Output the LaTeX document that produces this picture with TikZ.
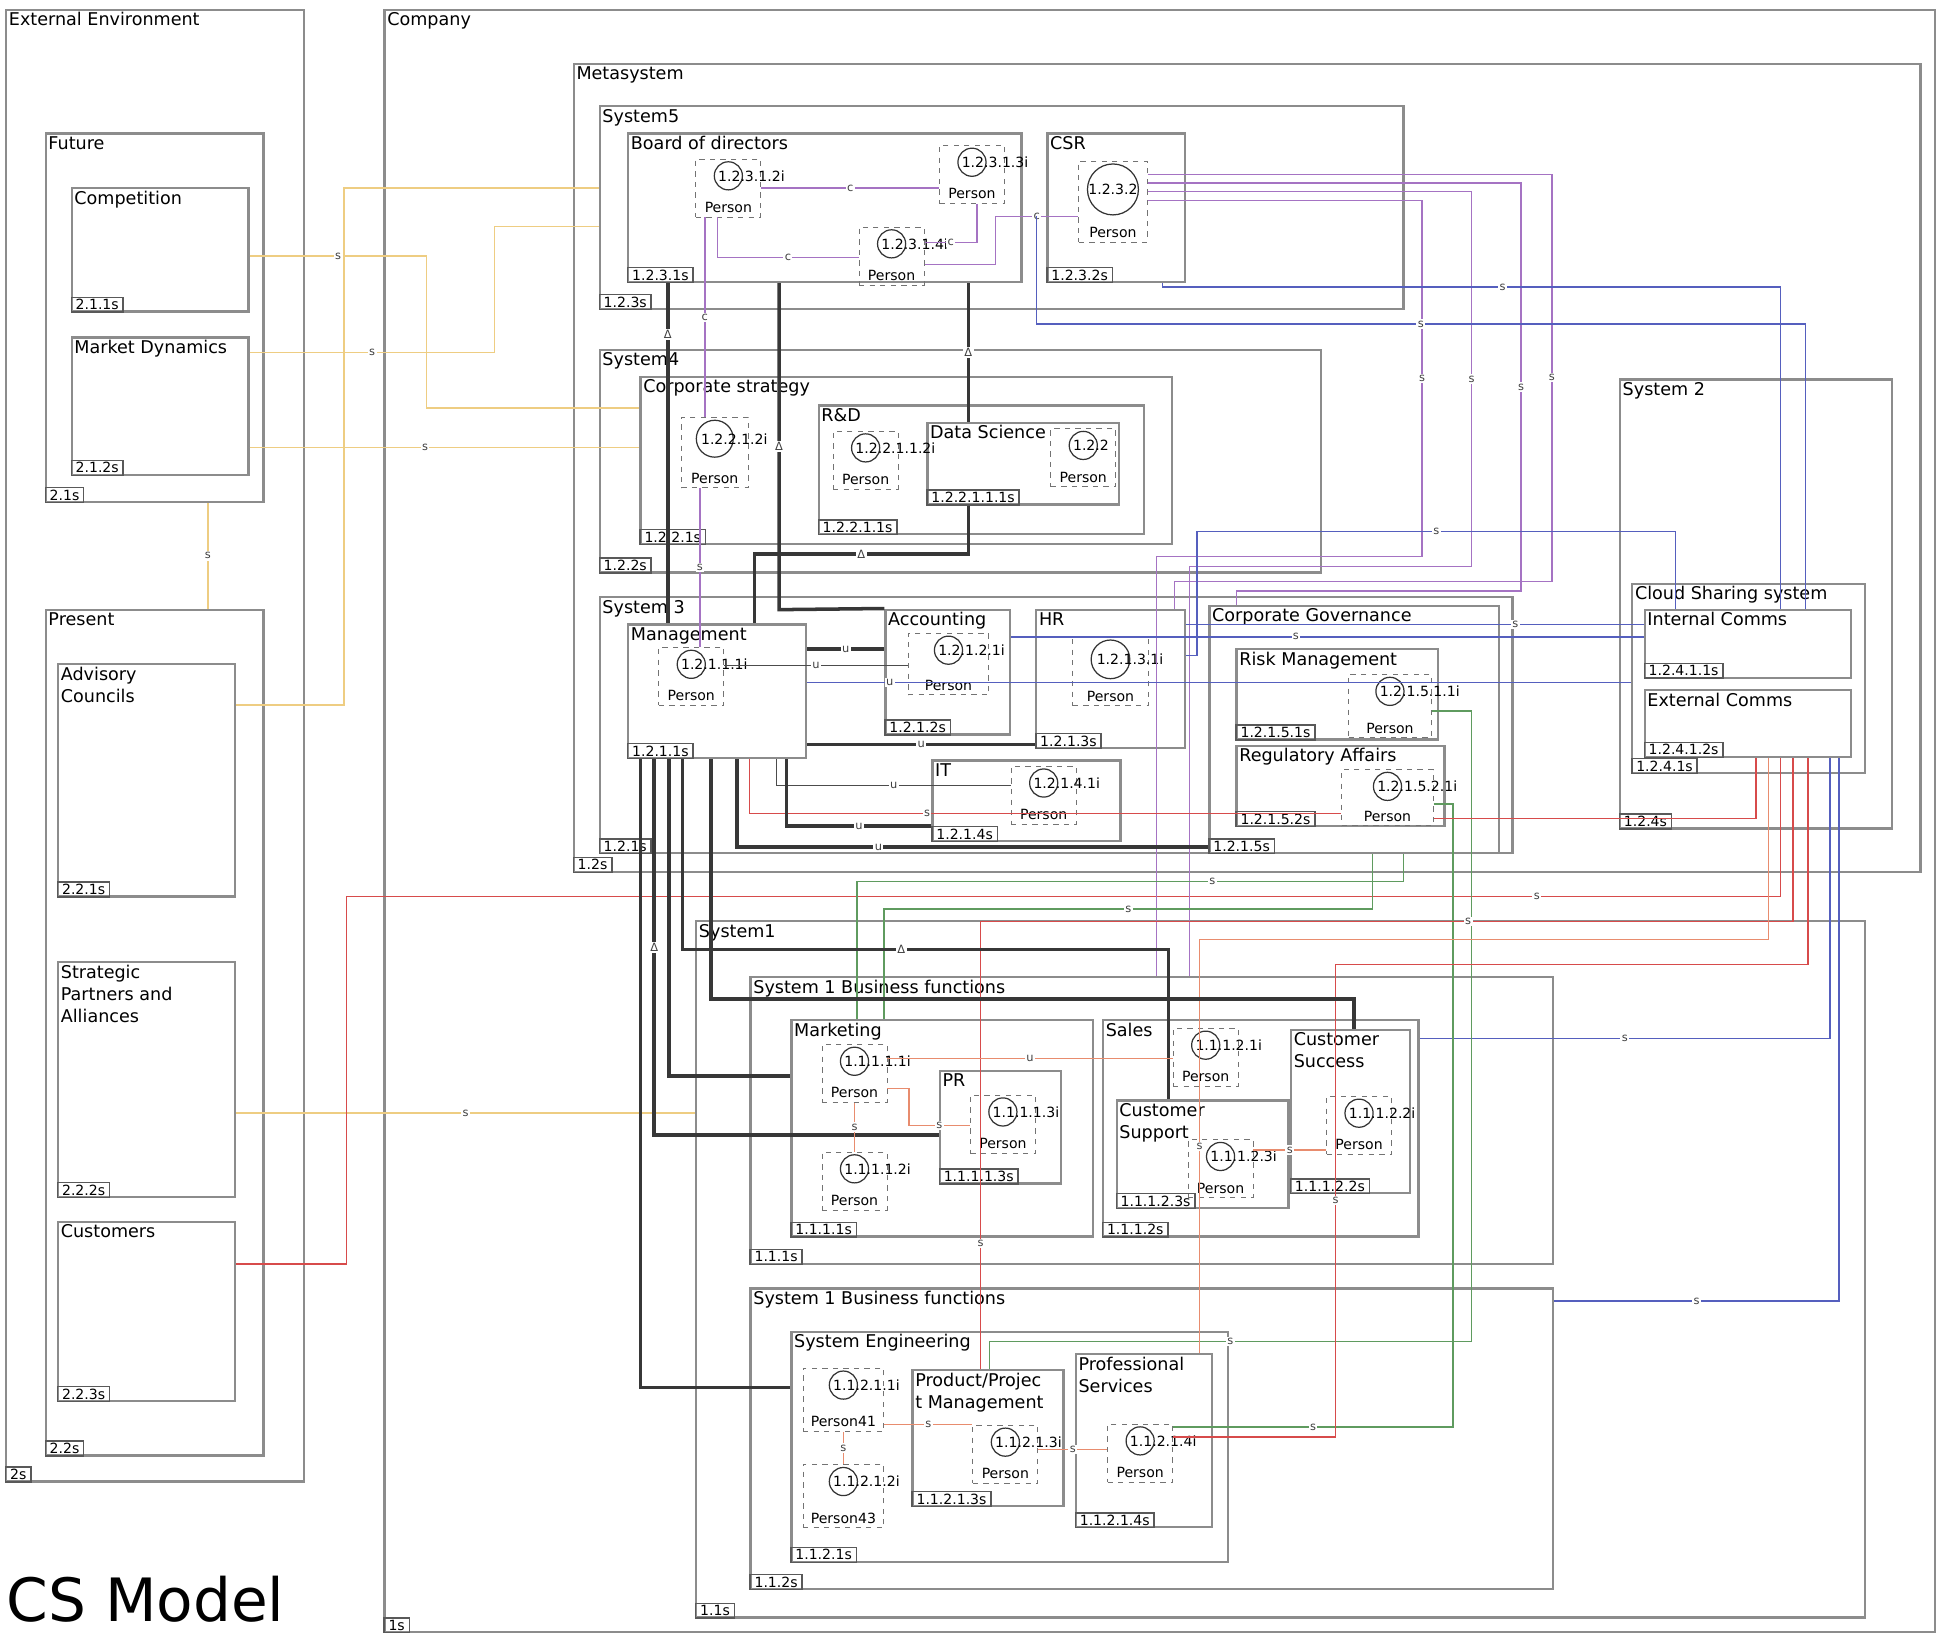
\documentclass[tikz,border=0pt]{standalone}
\usepackage{fontspec}
\setmainfont{DejaVu Sans}
\usetikzlibrary{positioning,calc,fit}

\definecolor{wireyel}{RGB}{238,205,130}
\definecolor{wirered}{RGB}{215,75,75}
\definecolor{wiresal}{RGB}{232,140,110}
\definecolor{wirepur}{RGB}{165,115,195}
\definecolor{wireblu}{RGB}{85,95,190}
\definecolor{wiregrn}{RGB}{95,155,95}
\definecolor{wiredrk}{RGB}{55,55,55}

\begin{document}
\begin{tikzpicture}[x=0.02473cm, y=-0.02473cm,
 box/.style = {draw=black!45, line width=1.3pt, inner sep=0pt},
 ttl/.style = {anchor=north west, inner sep=2pt, align=left, font=\fontsize{10}{12.5}\selectfont},
 tag/.style = {draw=black!65, line width=0.8pt, anchor=south west, inner xsep=2.5pt, inner ysep=1.2pt, font=\fontsize{8}{9}\selectfont},
 pbox/.style = {draw=black!55, dashed, line width=0.5pt, inner sep=0pt, minimum width=37pt, minimum height=33pt},
 pcirc/.style = {circle, draw=black!80, line width=0.7pt, minimum size=16pt, inner sep=0pt},
 pid/.style = {anchor=west, inner sep=0pt, font=\fontsize{8}{9}\selectfont},
 ptxt/.style = {inner sep=0pt, font=\fontsize{8}{9}\selectfont},
 lab/.style = {fill=white, inner sep=0.8pt, font=\fontsize{6.5}{7}\selectfont, text=black!75},
 yw/.style = {draw=wireyel, line width=0.9pt},
 rw/.style = {draw=wirered, line width=0.8pt},
 sw/.style = {draw=wiresal, line width=0.7pt},
 pw/.style = {draw=wirepur, line width=0.8pt},
 bw/.style = {draw=wireblu, line width=0.8pt},
 gw/.style = {draw=wiregrn, line width=0.8pt},
 dw/.style = {draw=wiredrk, line width=2pt},
 tw/.style = {draw=black!70, line width=0.6pt}]

\useasboundingbox (0,0) rectangle (1568,1322);

% external environment
\node[box, fit={(5,8) (246,1198)}] (extenv) {};
\node[ttl] (extenvT) at (extenv.north west) {External Environment};
\node[tag] (extenvG) at (extenv.south west) {2s};
\node[box, fit={(37,108) (213,406)}] (future) {};
\node[ttl] (futureT) at (future.north west) {Future};
\node[tag] (futureG) at (future.south west) {2.1s};
\node[box, fit={(58,152) (201,252)}] (comp) {};
\node[ttl] (compT) at (comp.north west) {Competition};
\node[tag] (compG) at (comp.south west) {2.1.1s};
\node[box, fit={(58,273) (201,384)}] (mkt) {};
\node[ttl] (mktT) at (mkt.north west) {Market Dynamics};
\node[tag] (mktG) at (mkt.south west) {2.1.2s};
\node[box, fit={(37,493) (213,1177)}] (present) {};
\node[ttl] (presentT) at (present.north west) {Present};
\node[tag] (presentG) at (present.south west) {2.2s};
\node[box, fit={(47,537) (190,725)}] (adv) {};
\node[ttl] (advT) at (adv.north west) {Advisory\\Councils};
\node[tag] (advG) at (adv.south west) {2.2.1s};
\node[box, fit={(47,778) (190,968)}] (spa) {};
\node[ttl] (spaT) at (spa.north west) {Strategic\\Partners and\\Alliances};
\node[tag] (spaG) at (spa.south west) {2.2.2s};
\node[box, fit={(47,988) (190,1133)}] (cust) {};
\node[ttl] (custT) at (cust.north west) {Customers};
\node[tag] (custG) at (cust.south west) {2.2.3s};

% company and metasystem
\node[box, fit={(311,8) (1565,1320)}] (company) {};
\node[ttl] (companyT) at (company.north west) {Company};
\node[tag] (companyG) at (company.south west) {1s};
\node[box, fit={(464,52) (1553,705)}] (meta) {};
\node[ttl] (metaT) at (meta.north west) {Metasystem};
\node[tag] (metaG) at (meta.south west) {1.2s};

\node[box, fit={(485,86) (1135,250)}] (sys5) {};
\node[ttl] (sys5T) at (sys5.north west) {System5};
\node[tag] (sys5G) at (sys5.south west) {1.2.3s};
\node[box, fit={(508,108) (826,228)}] (bod) {};
\node[ttl] (bodT) at (bod.north west) {Board of directors};
\node[tag] (bodG) at (bod.south west) {1.2.3.1s};
\node[box, fit={(847,108) (958,228)}] (csr) {};
\node[ttl] (csrT) at (csr.north west) {CSR};
\node[tag] (csrG) at (csr.south west) {1.2.3.2s};

\node[box, fit={(485,283) (1068,463)}] (sys4) {};
\node[ttl] (sys4T) at (sys4.north west) {System4};
\node[tag] (sys4G) at (sys4.south west) {1.2.2s};
\node[box, fit={(518,305) (948,440)}] (corp) {};
\node[ttl] (corpT) at (corp.north west) {Corporate strategy};
\node[tag] (corpG) at (corp.south west) {1.2.2.1s};
\node[box, fit={(662,328) (925,432)}] (rd) {};
\node[ttl] (rdT) at (rd.north west) {R\&D};
\node[tag] (rdG) at (rd.south west) {1.2.2.1.1s};
\node[box, fit={(750,342) (905,408)}] (ds) {};
\node[ttl] (dsT) at (ds.north west) {Data Science};
\node[tag] (dsG) at (ds.south west) {1.2.2.1.1.1s};

\node[box, fit={(485,483) (1223,690)}] (sys3) {};
\node[ttl] (sys3T) at (sys3.north west) {System 3};
\node[tag] (sys3G) at (sys3.south west) {1.2.1s};
\node[box, fit={(508,505) (652,613)}] (mgmt) {};
\node[ttl] (mgmtT) at (mgmt.north west) {Management};
\node[tag] (mgmtG) at (mgmt.south west) {1.2.1.1s};
\node[box, fit={(716,493) (817,594)}] (acc) {};
\node[ttl] (accT) at (acc.north west) {Accounting};
\node[tag] (accG) at (acc.south west) {1.2.1.2s};
\node[box, fit={(838,493) (958,605)}] (hr) {};
\node[ttl] (hrT) at (hr.north west) {HR};
\node[tag] (hrG) at (hr.south west) {1.2.1.3s};
\node[box, fit={(754,615) (906,680)}] (itd) {};
\node[ttl] (itdT) at (itd.north west) {IT};
\node[tag] (itdG) at (itd.south west) {1.2.1.4s};
\node[box, fit={(978,490) (1212,690)}] (cg) {};
\node[ttl] (cgT) at (cg.north west) {Corporate Governance};
\node[tag] (cgG) at (cg.south west) {1.2.1.5s};
\node[box, fit={(1000,525) (1163,598)}] (rm) {};
\node[ttl] (rmT) at (rm.north west) {Risk Management};
\node[tag] (rmG) at (rm.south west) {1.2.1.5.1s};
\node[box, fit={(1000,603) (1168,668)}] (ra) {};
\node[ttl] (raT) at (ra.north west) {Regulatory Affairs};
\node[tag] (raG) at (ra.south west) {1.2.1.5.2s};

\node[box, fit={(1310,307) (1530,670)}] (sys2) {};
\node[ttl] (sys2T) at (sys2.north west) {System 2};
\node[tag] (sys2G) at (sys2.south west) {1.2.4s};
\node[box, fit={(1320,472) (1508,625)}] (css) {};
\node[ttl] (cssT) at (css.north west) {Cloud Sharing system};
\node[tag] (cssG) at (css.south west) {1.2.4.1s};
\node[box, fit={(1330,493) (1497,548)}] (ic) {};
\node[ttl] (icT) at (ic.north west) {Internal Comms};
\node[tag] (icG) at (ic.south west) {1.2.4.1.1s};
\node[box, fit={(1330,558) (1497,612)}] (ec) {};
\node[ttl] (ecT) at (ec.north west) {External Comms};
\node[tag] (ecG) at (ec.south west) {1.2.4.1.2s};

% system 1
\node[box, fit={(563,745) (1508,1308)}] (sys1) {};
\node[ttl] (sys1T) at (sys1.north west) {System1};
\node[tag] (sys1G) at (sys1.south west) {1.1s};
\node[box, fit={(607,790) (1256,1022)}] (bf1) {};
\node[ttl] (bf1T) at (bf1.north west) {System 1 Business functions};
\node[tag] (bf1G) at (bf1.south west) {1.1.1s};
\node[box, fit={(640,825) (884,1000)}] (mark) {};
\node[ttl] (markT) at (mark.north west) {Marketing};
\node[tag] (markG) at (mark.south west) {1.1.1.1s};
\node[box, fit={(760,866) (858,957)}] (pr) {};
\node[ttl] (prT) at (pr.north west) {PR};
\node[tag] (prG) at (pr.south west) {1.1.1.1.3s};
\node[box, fit={(892,825) (1147,1000)}] (sales) {};
\node[ttl] (salesT) at (sales.north west) {Sales};
\node[tag] (salesG) at (sales.south west) {1.1.1.2s};
\node[box, fit={(903,890) (1042,977)}] (csup) {};
\node[ttl] (csupT) at (csup.north west) {Customer\\Support};
\node[tag] (csupG) at (csup.south west) {1.1.1.2.3s};
\node[box, fit={(1044,833) (1140,965)}] (csucc) {};
\node[ttl] (csuccT) at (csucc.north west) {Customer\\Success};
\node[tag] (csuccG) at (csucc.south west) {1.1.1.2.2s};
\node[box, fit={(607,1042) (1256,1285)}] (bf2) {};
\node[ttl] (bf2T) at (bf2.north west) {System 1 Business functions};
\node[tag] (bf2G) at (bf2.south west) {1.1.2s};
\node[box, fit={(640,1077) (993,1263)}] (seng) {};
\node[ttl] (sengT) at (seng.north west) {System Engineering};
\node[tag] (sengG) at (seng.south west) {1.1.2.1s};
\node[box, fit={(738,1108) (860,1218)}] (pm) {};
\node[ttl] (pmT) at (pm.north west) {Product/Projec\\t Management};
\node[tag] (pmG) at (pm.south west) {1.1.2.1.3s};
\node[box, fit={(870,1095) (980,1235)}] (ps) {};
\node[ttl] (psT) at (ps.north west) {Professional\\Services};
\node[tag] (psG) at (ps.south west) {1.1.2.1.4s};

% persons
\node[pbox] (bod1) at (589,152) {};
\node[pcirc, below=1.5pt of bod1.north] (bod1c) {};
\node[pid] (bod1i) at ([xshift=-6pt]bod1c.center) {1.2.3.1.2i};
\node[ptxt, above=2.5pt of bod1.south] (bod1t) {Person};
\node[pbox] (bod2) at (786,141) {};
\node[pcirc, below=1.5pt of bod2.north] (bod2c) {};
\node[pid] (bod2i) at ([xshift=-6pt]bod2c.center) {1.2.3.1.3i};
\node[ptxt, above=2.5pt of bod2.south] (bod2t) {Person};
\node[pbox] (bod3) at (721,207) {};
\node[pcirc, below=1.5pt of bod3.north] (bod3c) {};
\node[pid] (bod3i) at ([xshift=-6pt]bod3c.center) {1.2.3.1.4i};
\node[ptxt, above=2.5pt of bod3.south] (bod3t) {Person};
\node[pbox, minimum width=39pt, minimum height=46pt] (csr1) at (900,163) {};
\node[pcirc, minimum size=29pt, below=1.5pt of csr1.north] (csr1c) {};
\node[ptxt] (csr1i) at (csr1c) {1.2.3.2};
\node[ptxt, above=2.5pt of csr1.south] (csr1t) {Person};

\node[pbox, minimum width=38pt, minimum height=40pt] (cs1) at (578,366) {};
\node[pcirc, minimum size=21pt, below=1.5pt of cs1.north] (cs1c) {};
\node[pid] (cs1i) at ([xshift=-8pt]cs1c.center) {1.2.2.1.2i};
\node[ptxt, above=2.5pt of cs1.south] (cs1t) {Person};
\node[pbox] (rd1) at (700,372) {};
\node[pcirc, below=1.5pt of rd1.north] (rd1c) {};
\node[pid] (rd1i) at ([xshift=-6pt]rd1c.center) {1.2.2.1.1.2i};
\node[ptxt, above=2.5pt of rd1.south] (rd1t) {Person};
\node[pbox] (ds1) at (876,370) {};
\node[pcirc, below=1.5pt of ds1.north] (ds1c) {};
\node[pid] (ds1i) at ([xshift=-6pt]ds1c.center) {1.2.2};
\node[ptxt, above=2.5pt of ds1.south] (ds1t) {Person};

\node[pbox] (mg1) at (559,547) {};
\node[pcirc, below=1.5pt of mg1.north] (mg1c) {};
\node[pid] (mg1i) at ([xshift=-6pt]mg1c.center) {1.2.1.1.1i};
\node[ptxt, above=2.5pt of mg1.south] (mg1t) {Person};
\node[pbox, minimum width=46pt, minimum height=35pt] (ac1) at (767,537) {};
\node[pcirc, below=1.5pt of ac1.north] (ac1c) {};
\node[pid] (ac1i) at ([xshift=-6pt]ac1c.center) {1.2.1.2.1i};
\node[ptxt, above=2.5pt of ac1.south] (ac1t) {Person};
\node[pbox, minimum width=43pt, minimum height=39pt] (hr1) at (898,543) {};
\node[pcirc, minimum size=22pt, below=1.5pt of hr1.north] (hr1c) {};
\node[pid] (hr1i) at ([xshift=-8pt]hr1c.center) {1.2.1.3.1i};
\node[ptxt, above=2.5pt of hr1.south] (hr1t) {Person};
\node[pbox] (it1) at (844,643) {};
\node[pcirc, below=1.5pt of it1.north] (it1c) {};
\node[pid] (it1i) at ([xshift=-6pt]it1c.center) {1.2.1.4.1i};
\node[ptxt, above=2.5pt of it1.south] (it1t) {Person};
\node[pbox, minimum width=47pt, minimum height=36pt] (rm1) at (1124,571) {};
\node[pcirc, below=1.5pt of rm1.north] (rm1c) {};
\node[pid] (rm1i) at ([xshift=-6pt]rm1c.center) {1.2.1.5.1.1i};
\node[ptxt, above=2.5pt of rm1.south] (rm1t) {Person};
\node[pbox, minimum width=52pt, minimum height=32pt] (ra1) at (1122,645) {};
\node[pcirc, below=1.5pt of ra1.north] (ra1c) {};
\node[pid] (ra1i) at ([xshift=-6pt]ra1c.center) {1.2.1.5.2.1i};
\node[ptxt, above=2.5pt of ra1.south] (ra1t) {Person};

\node[pbox] (mk1) at (691,868) {};
\node[pcirc, below=1.5pt of mk1.north] (mk1c) {};
\node[pid] (mk1i) at ([xshift=-6pt]mk1c.center) {1.1.1.1.1i};
\node[ptxt, above=2.5pt of mk1.south] (mk1t) {Person};
\node[pbox] (mk2) at (691,955) {};
\node[pcirc, below=1.5pt of mk2.north] (mk2c) {};
\node[pid] (mk2i) at ([xshift=-6pt]mk2c.center) {1.1.1.1.2i};
\node[ptxt, above=2.5pt of mk2.south] (mk2t) {Person};
\node[pbox] (pr1) at (811,909) {};
\node[pcirc, below=1.5pt of pr1.north] (pr1c) {};
\node[pid] (pr1i) at ([xshift=-6pt]pr1c.center) {1.1.1.1.3i};
\node[ptxt, above=2.5pt of pr1.south] (pr1t) {Person};
\node[pbox] (sl1) at (975,855) {};
\node[pcirc, below=1.5pt of sl1.north] (sl1c) {};
\node[pid] (sl1i) at ([xshift=-6pt]sl1c.center) {1.1.1.2.1i};
\node[ptxt, above=2.5pt of sl1.south] (sl1t) {Person};
\node[pbox] (cu1) at (987,945) {};
\node[pcirc, below=1.5pt of cu1.north] (cu1c) {};
\node[pid] (cu1i) at ([xshift=-6pt]cu1c.center) {1.1.1.2.3i};
\node[ptxt, above=2.5pt of cu1.south] (cu1t) {Person};
\node[pbox] (cc1) at (1099,910) {};
\node[pcirc, below=1.5pt of cc1.north] (cc1c) {};
\node[pid] (cc1i) at ([xshift=-6pt]cc1c.center) {1.1.1.2.2i};
\node[ptxt, above=2.5pt of cc1.south] (cc1t) {Person};

\node[pbox, minimum width=46pt, minimum height=36pt] (se1) at (682,1132) {};
\node[pcirc, below=1.5pt of se1.north] (se1c) {};
\node[pid] (se1i) at ([xshift=-6pt]se1c.center) {1.1.2.1.1i};
\node[ptxt, above=2.5pt of se1.south] (se1t) {Person41};
\node[pbox, minimum width=46pt, minimum height=36pt] (se2) at (682,1210) {};
\node[pcirc, below=1.5pt of se2.north] (se2c) {};
\node[pid] (se2i) at ([xshift=-6pt]se2c.center) {1.1.2.1.2i};
\node[ptxt, above=2.5pt of se2.south] (se2t) {Person43};
\node[pbox] (pm1) at (813,1176) {};
\node[pcirc, below=1.5pt of pm1.north] (pm1c) {};
\node[pid] (pm1i) at ([xshift=-6pt]pm1c.center) {1.1.2.1.3i};
\node[ptxt, above=2.5pt of pm1.south] (pm1t) {Person};
\node[pbox] (ps1) at (922,1175) {};
\node[pcirc, below=1.5pt of ps1.north] (ps1c) {};
\node[pid] (ps1i) at ([xshift=-6pt]ps1c.center) {1.1.2.1.4i};
\node[ptxt, above=2.5pt of ps1.south] (ps1t) {Person};

% environment links
\draw[yw] (adv.east |- 0,570) -- (278,570) -- (278,152) -- (sys5.west |- 0,152);
\draw[yw] (comp.east |- 0,207) -- node[lab]{s} (345,207) -- (345,330) -- (corp.west |- 0,330);
\draw[yw] (mkt.east |- 0,285) -- node[lab]{s} (400,285) -- (400,183) -- (sys5.west |- 0,183);
\draw[yw] (mkt.east |- 0,362) -- node[lab, pos=0.45]{s} (corp.west |- 0,362);
\draw[yw] (future.south -| 168,0) -- node[lab]{s} (present.north -| 168,0);
\draw[yw] (spa.east |- 0,900) -- node[lab]{s} (sys1.west |- 0,900);
\draw[rw] (cust.east |- 0,1022) -- (280,1022) -- (280,725) -- node[lab, pos=0.83]{s} (1440,725) -- (ec.south -| 1440,0);

% board and strategy
\draw[pw] (bod1.east |- 0,152) -- node[lab]{c} (bod2.west |- 0,152);
\draw[pw] (bod1.south -| 580,0) -- (580,208) -- node[lab]{c} (bod3.west |- 0,208);
\draw[pw] (bod3.east |- 0,196) -- node[lab]{c} (790,196) -- (bod2.south -| 790,0);
\draw[pw] (bod3.east |- 0,214) -- (805,214) -- (805,175) -- node[lab]{c} (csr1.west |- 0,175);
\draw[pw] (bod1.south -| 570,0) -- node[lab]{c} (cs1.north -| 570,0);
\draw[pw] (cs1.south -| 566,0) -- node[lab]{s} (mg1.north -| 566,0);
\draw[pw] (csr1.east |- 0,141) -- (1255,141) -- node[lab]{s} (1255,470) -- (950,470) -- (hr.north -| 950,0);
\draw[pw] (csr1.east |- 0,148) -- (1230,148) -- node[lab]{s} (1230,478) -- (1000,478) -- (cg.north -| 1000,0);
\draw[pw] (csr1.east |- 0,155) -- (1190,155) -- node[lab]{s} (1190,458) -- (962,458) -- (bf1.north -| 962,0);
\draw[pw] (csr1.east |- 0,162) -- (1150,162) -- node[lab]{s} (1150,450) -- (935,450) -- (bf1.north -| 935,0);

% system 2 links
\coordinate (bsrc) at (838,175);
\draw[bw] (bsrc) -- (838,262) -- node[lab]{s} (1460,262) -- (ic.north -| 1460,0);
\draw[bw] (csr.south -| 940,0) -- (940,232) -- node[lab, pos=0.55]{s} (1440,232) -- (ic.north -| 1440,0);
\draw[bw] (hr.east |- 0,530) -- (968,530) -- (968,430) -- node[lab]{s} (1355,430) -- (ic.north -| 1355,0);
\draw[bw] (hr.east |- 0,505) -- node[lab, pos=0.72]{s} (ic.west |- 0,505);
\draw[bw] (acc.east |- 0,515) -- node[lab, pos=0.45]{s} (ic.west |- 0,515);
\draw[bw] (mgmt.east |- 0,552) -- node[lab, pos=0.1]{u} (css.west |- 0,552);
\draw[bw] (ec.south -| 1480,0) -- (1480,840) -- node[lab]{s} (sales.east |- 0,840);
\draw[bw] (ec.south -| 1487,0) -- (1487,1052) -- node[lab]{s} (bf2.east |- 0,1052);

% governance links
\draw[gw] (cg.south -| 1135,0) -- (1135,713) -- node[lab, pos=0.35]{s} (693,713) -- (mark.north -| 693,0);
\draw[gw] (cg.south -| 1110,0) -- (1110,735) -- node[lab]{s} (715,735) -- (mark.north -| 715,0);
\draw[gw] (rm1.east |- 0,575) -- (1190,575) -- (1190,1085) -- node[lab]{s} (800,1085) -- (pm.north -| 800,0);
\draw[gw] (ra1.east |- 0,650) -- (1175,650) -- (1175,1154) -- node[lab]{s} (ps1.east |- 0,1154);
\draw[rw] (mgmt.south -| 606,0) -- (606,658) -- node[lab, pos=0.3]{s} (ra1.west |- 0,658);
\draw[rw] (ra1.east |- 0,662) -- (1420,662) -- (ec.south -| 1420,0);
\draw[rw] (pm.north -| 793,0) -- node[lab, pos=0.28]{s} (793,745) -- node[lab, pos=0.6]{s} (1450,745) -- (ec.south -| 1450,0);
\draw[rw] (ps1.east |- 0,1162) -- (1080,1162) -- node[lab]{s} (1080,780) -- (1462,780) -- (ec.south -| 1462,0);
\draw[sw] (ps.north -| 970,0) -- node[lab]{s} (970,760) -- (1430,760) -- (ec.south -| 1430,0);

% management links
\draw[dw] (bod.south -| 540,0) -- node[lab, pos=0.15]{Δ} (mgmt.north -| 540,0);
\draw[dw] (bod.south -| 630,0) -- node[lab]{Δ} (630,493) -- (acc.north west);
\draw[dw] (bod.south -| 783,0) -- node[lab]{Δ} (ds.north -| 783,0);
\draw[dw] (ds.south -| 783,0) -- (783,448) -- node[lab]{Δ} (610,448) -- (mgmt.north -| 610,0);
\draw[dw] (mgmt.east |- 0,525) -- node[lab]{u} (acc.west |- 0,525);
\draw[tw] (mg1.east |- 0,538) -- node[lab]{u} (ac1.west |- 0,538);
\draw[dw] (mgmt.east |- 0,602) -- node[lab]{u} (hr.west |- 0,602);
\draw[tw] (mgmt.south -| 628,0) -- (628,635) -- node[lab]{u} (it1.west |- 0,635);
\draw[dw] (mgmt.south -| 636,0) -- (636,668) -- node[lab]{u} (itd.west |- 0,668);
\draw[dw] (mgmt.south -| 596,0) -- (596,685) -- node[lab, pos=0.3]{u} (cg.west |- 0,685);
\draw[dw] (mgmt.south -| 518,0) -- (518,1122) -- (seng.west |- 0,1122);
\draw[dw] (mgmt.south -| 529,0) -- node[lab, pos=0.5]{Δ} (529,918) -- (pr.west |- 0,918);
\draw[dw] (mgmt.south -| 541,0) -- (541,870) -- (mark.west |- 0,870);
\draw[dw] (mgmt.south -| 552,0) -- (552,768) -- node[lab, pos=0.45]{Δ} (945,768) -- (csup.north -| 945,0);
\draw[dw] (mgmt.south -| 575,0) -- (575,808) -- (1095,808) -- (csucc.north -| 1095,0);

% system 1 links
\draw[sw] (mk1.east |- 0,856) -- node[lab]{u} (sl1.west |- 0,856);
\draw[sw] (mk1.east |- 0,880) -- (735,880) -- (735,910) -- node[lab]{s} (pr1.west |- 0,910);
\draw[sw] (mk1.south) -- node[lab]{s} (mk2.north);
\draw[sw] (se1.south) -- node[lab]{s} (se2.north);
\draw[sw] (se1.east |- 0,1152) -- node[lab]{s} (pm1.west |- 0,1152);
\draw[sw] (pm1.east |- 0,1172) -- node[lab]{s} (ps1.west |- 0,1172);
\draw[sw] (cu1.east |- 0,930) -- node[lab]{s} (cc1.west |- 0,930);

\node[anchor=south west, inner sep=0pt, font=\fontsize{34}{40}\selectfont] (csmodel) at (5,1312) {CS Model};
\end{tikzpicture}
\end{document}
